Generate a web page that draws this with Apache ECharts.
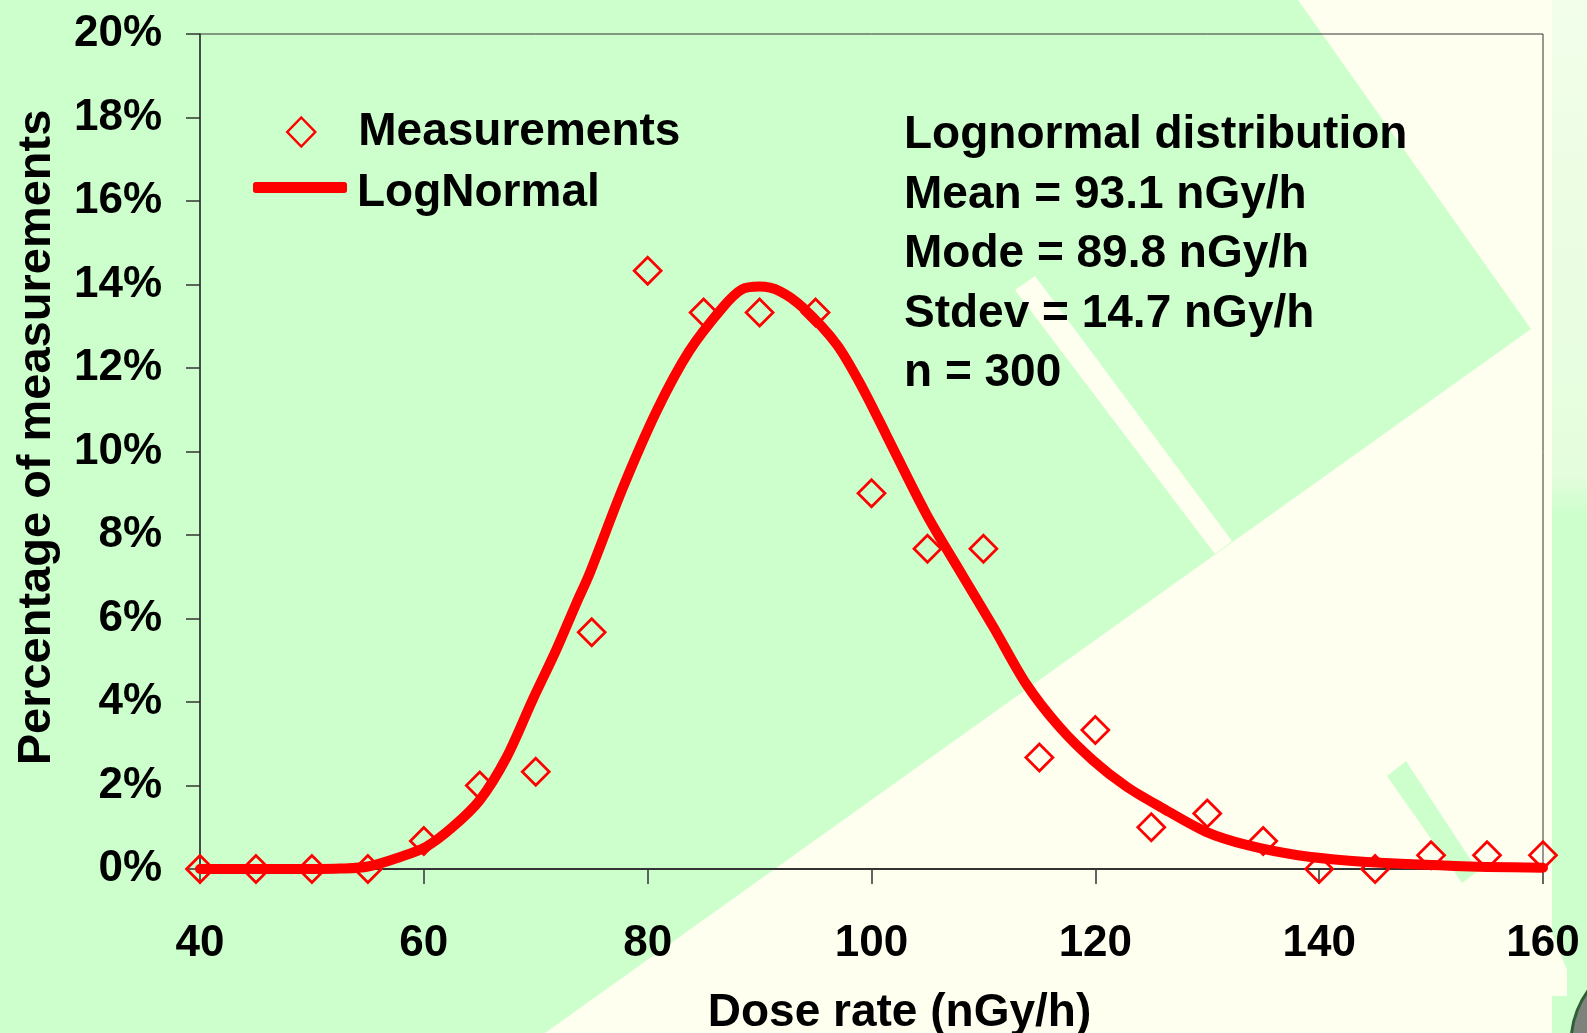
<!DOCTYPE html>
<html>
<head>
<meta charset="utf-8">
<script src="https://cdn.jsdelivr.net/npm/echarts@6/dist/echarts.min.js"></script>
<style>
html,body{margin:0;padding:0;background:#FFFFF0;}
#chart{width:1587px;height:1033px;}
</style>
</head>
<body>
<div id="chart"></div>
<script>
// Measured histogram (dose rate bins, % of measurements)
var measX = [40,45,50,55,60,65,70,75,80,85,90,95,100,105,110,115,120,125,130,135,140,145,150,155,160];
var measY = [0,0,0,0,0.67,2.0,2.33,5.67,14.33,13.33,13.33,13.33,9.0,7.67,7.67,2.67,3.33,1.0,1.33,0.67,0,0,0.33,0.33,0.33];

// LogNormal curve
var curveX = [40,45,50,52.5,55,57.9,60.2,62.6,65,67.4,69.7,71.8,73.6,74.8,77.8,80.8,83.7,86.7,88.4,90.0,91.8,93.9,96.9,99.2,101.3,104.9,108.2,110.9,113.8,116.8,119.8,122.8,125.8,129.9,133.6,138.1,142.7,149.5,155,160];
var curveY = [0,0,0,0.01,0.06,0.29,0.53,1.01,1.65,2.68,4.04,5.23,6.35,7.07,9.14,10.97,12.4,13.45,13.88,13.95,13.84,13.44,12.56,11.52,10.41,8.5,7.0,5.79,4.44,3.4,2.6,1.97,1.49,0.89,0.57,0.33,0.2,0.1,0.05,0.03];

var xTicks = {min:40, max:160, interval:20};
var yTicks = {min:0, max:20, interval:2};

var seriesNames = ['Measurements','LogNormal'];
var xTitle = 'Dose rate (nGy/h)';
var yTitle = 'Percentage of measurements';
var annotationLines = ['Lognormal distribution','Mean = 93.1 nGy/h','Mode = 89.8 nGy/h','Stdev = 14.7 nGy/h','n = 300'];

var FONT = '"Liberation Sans", Arial, sans-serif';
var GREEN = '#CCFFCC';
var CREAM = '#FFFFF0';
var legendText = {fontSize:46, fontWeight:'bold', color:'#000', fontFamily:FONT};

var chart = echarts.init(document.getElementById('chart'), null, {renderer:'canvas'});

var option = {
  backgroundColor: CREAM,
  animation: false,
  graphic: {
    elements: [
      {type:'polygon', z:-10, silent:true, shape:{points:[[0,0],[1298,0],[1531,329],[545,1033],[0,1033]]}, style:{fill:GREEN}},
      {type:'polygon', z:-9, silent:true, shape:{points:[[1015,290],[1035,276],[1232,541],[1215,554]]}, style:{fill:CREAM}},
      {type:'polygon', z:-9, silent:true, shape:{points:[[1387,776],[1406,761],[1478,871],[1462,883]]}, style:{fill:GREEN}},
      {type:'rect', z:-9, silent:true, shape:{x:1552,y:0,width:35,height:1033},
        style:{fill:new echarts.graphic.LinearGradient(0,0,0,1,[{offset:0,color:'#F2FEEA'},{offset:0.46,color:'#E4FDDC'},{offset:0.5,color:GREEN},{offset:1,color:GREEN}])}},
      {type:'polygon', z:-8, silent:true, shape:{points:[[1552,933],[1567,970],[1567,996],[1552,996]]}, style:{fill:CREAM}},
      {type:'circle', z:-7, silent:true, shape:{cx:1660,cy:1043,r:89}, style:{fill:'#7d827d', stroke:'#2f5f35', lineWidth:3}},
      {type:'text', z:10, left:904, top:106,
        style:{text:annotationLines.join('\n'), font:'bold 46px ' + FONT, lineHeight:59.5, fill:'#000'}}
    ]
  },
  grid: {left:200, right:44, top:34, bottom:164, outerBoundsMode:'none', containLabel:false,
         show:true, borderColor:'#333', borderWidth:1, backgroundColor:'transparent'},
  legend: [
    {data:[{name:seriesNames[0], icon:'diamond', itemStyle:{color:'rgba(0,0,0,0)', borderColor:'#ff0000', borderWidth:2.5}}],
     left:286, top:109, padding:0, itemWidth:28, itemHeight:29, selectedMode:false,
     textStyle:Object.assign({padding:[0,0,0,38]}, legendText)},
    // LogNormal legend line (icon only)
    {data:[{name:seriesNames[1], icon:'roundRect', itemStyle:{color:'#ff0000'}}],
     left:253, top:182, padding:0, itemWidth:94, itemHeight:11, selectedMode:false,
     formatter:function(){return '';}, textStyle:{fontSize:1, color:'rgba(0,0,0,0)'}},
    // LogNormal legend text
    {data:[{name:seriesNames[1], icon:'rect', itemStyle:{color:'rgba(0,0,0,0)', borderWidth:0}}],
     left:352, top:170, padding:0, itemWidth:0, itemHeight:1, selectedMode:false,
     textStyle:legendText}
  ],
  xAxis: {
    type:'value', min:xTicks.min, max:xTicks.max, interval:xTicks.interval,
    name:xTitle, nameLocation:'middle', nameGap:121,
    nameTextStyle:{fontSize:46, fontWeight:'bold', color:'#000', fontFamily:FONT, padding:[0,0,0,56]},
    axisLine:{show:true, onZero:false, lineStyle:{color:'#333', width:2}},
    axisTick:{show:true, length:15, lineStyle:{color:'#333', width:1.5}},
    axisLabel:{fontSize:44, fontWeight:'bold', color:'#000', fontFamily:FONT, margin:53},
    splitLine:{show:false}
  },
  yAxis: {
    type:'value', min:yTicks.min, max:yTicks.max, interval:yTicks.interval,
    name:yTitle, nameLocation:'middle', nameGap:139,
    nameTextStyle:{fontSize:47, fontWeight:'bold', color:'#000', fontFamily:FONT, padding:[0,0,0,28]},
    axisLine:{show:true, lineStyle:{color:'#333', width:1.5}},
    axisTick:{show:true, length:14, lineStyle:{color:'#333', width:1.5}},
    axisLabel:{fontSize:44, fontWeight:'bold', color:'#000', fontFamily:FONT, margin:38, formatter:'{value}%'},
    splitLine:{show:false}
  },
  series: [
    {
      name:seriesNames[0], type:'scatter', z:2,
      symbol:'diamond', symbolSize:27,
      itemStyle:{color:'rgba(0,0,0,0)', borderColor:'#ff0000', borderWidth:2.7, opacity:1},
      data: measX.map(function(x,i){return [x, measY[i]];})
    },
    {
      name:seriesNames[1], type:'line', z:3,
      showSymbol:false, symbol:'none', smooth:0.3, clip:false,
      lineStyle:{color:'#ff0000', width:10, cap:'round', join:'round'},
      itemStyle:{color:'#ff0000'},
      data: curveX.map(function(x,i){return [x, curveY[i]];})
    }
  ]
};
chart.setOption(option);
</script>
</body>
</html>
